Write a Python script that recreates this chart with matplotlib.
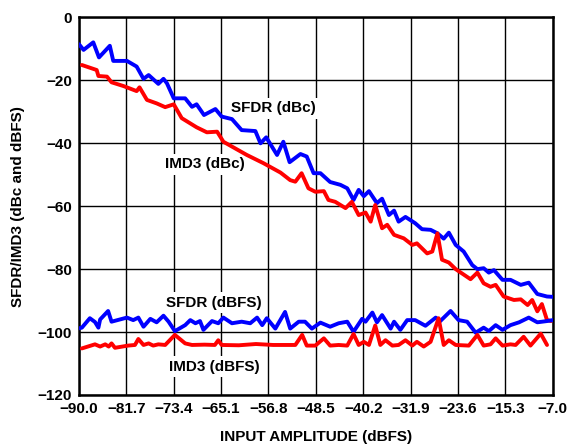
import numpy as np
import matplotlib
matplotlib.use("Agg")
import matplotlib.pyplot as plt

plt.rcParams["font.family"] = ["Liberation Sans", "DejaVu Sans"]
plt.rcParams["font.weight"] = "bold"
plt.rcParams["axes.unicode_minus"] = True

# SFDR in dBc (upper blue trace)
sfdr_dbc_x = [-90.0, -89.2, -87.5, -86.5, -84.6, -84.0, -81.6, -79.9, -78.7, -77.8,
              -76.1, -75.2, -74.6, -73.4, -71.4, -70.2, -69.4, -68.1, -66.1, -65.0,
              -63.2, -61.5, -59.1, -58.2, -57.2, -55.3, -54.2, -53.1, -51.2, -50.1,
              -48.9, -47.7, -46.0, -44.2, -43.0, -41.9, -41.0, -40.1, -39.2, -37.8,
              -36.9, -35.7, -34.8, -34.0, -32.8, -31.1, -29.9, -28.4, -27.2, -26.1,
              -25.2, -24.0, -22.6, -21.1, -20.2, -19.1, -18.2, -17.3, -15.8, -14.4,
              -12.6, -11.2, -9.7, -8.0, -7.0]
sfdr_dbc_y = [-8.5, -10.3, -7.9, -12.7, -9.0, -13.8, -13.8, -15.6, -19.5, -18.3,
              -21.1, -19.5, -20.9, -25.7, -25.7, -28.4, -27.6, -31.0, -29.1, -31.5,
              -32.3, -35.8, -36.1, -40.0, -38.1, -43.7, -39.5, -46.0, -43.4, -44.2,
              -49.5, -49.5, -52.3, -53.2, -54.3, -58.0, -54.8, -56.8, -55.2, -59.0,
              -57.6, -62.8, -61.4, -64.9, -63.4, -65.4, -67.3, -67.5, -68.6, -70.3,
              -68.4, -72.3, -74.4, -78.7, -80.0, -79.7, -81.1, -80.3, -83.4, -83.4,
              -85.0, -84.3, -87.9, -88.7, -88.8]

# IMD3 in dBc (upper red trace)
imd3_dbc_x = [-89.5, -86.9, -86.6, -85.1, -84.3, -82.2, -79.9, -79.4, -78.1, -76.4,
              -74.9, -73.4, -72.0, -69.4, -67.6, -65.8, -64.7, -60.6, -57.7, -54.7,
              -53.0, -52.1, -51.0, -49.8, -48.6, -47.1, -46.3, -45.1, -43.3, -42.2,
              -41.0, -39.8, -38.9, -38.1, -36.9, -36.0, -34.8, -33.1, -31.6, -30.8,
              -29.0, -28.1, -27.2, -26.4, -25.2, -24.0, -21.4, -20.2, -19.1, -17.9,
              -17.0, -15.6, -13.8, -12.6, -11.4, -10.6, -9.7, -8.9, -8.0, -7.3]
imd3_dbc_y = [-15.1, -16.7, -18.6, -18.8, -20.6, -21.8, -23.4, -22.2, -26.2, -27.3,
              -28.5, -27.6, -32.0, -34.9, -36.5, -36.3, -39.5, -43.7, -46.3, -49.3,
              -51.7, -52.2, -49.5, -54.3, -55.4, -55.2, -58.0, -58.6, -60.6, -58.6,
              -62.8, -62.0, -64.9, -59.6, -67.0, -65.9, -69.1, -70.2, -72.3, -71.8,
              -75.0, -74.4, -68.6, -77.0, -77.9, -80.0, -83.2, -81.1, -84.5, -85.6,
              -85.0, -88.7, -89.8, -89.6, -91.4, -89.8, -93.4, -91.1, -96.2, -96.5]

# SFDR in dBFS (lower blue trace)
sfdr_dbfs_x = [-90.0, -89.5, -88.1, -87.2, -86.6, -86.3, -84.9, -84.3, -81.6, -80.5,
               -79.6, -78.7, -77.5, -76.4, -75.2, -74.3, -73.2, -71.4, -70.5, -69.6,
               -68.8, -68.2, -66.7, -65.6, -64.7, -63.2, -61.5, -60.0, -58.8, -57.9,
               -57.1, -55.6, -53.9, -53.0, -51.5, -50.4, -49.2, -47.7, -46.0, -44.5,
               -43.0, -41.9, -40.4, -39.8, -38.6, -37.8, -36.9, -35.4, -34.8, -33.7,
               -32.5, -31.1, -29.3, -27.5, -26.7, -24.9, -23.5, -22.0, -20.5, -19.1,
               -18.2, -17.0, -15.8, -14.4, -12.9, -11.2, -9.7, -8.0, -7.0]
sfdr_dbfs_y = [-98.8, -98.6, -95.6, -96.8, -98.6, -96.0, -93.3, -96.7, -95.4, -96.2,
               -95.4, -98.3, -95.8, -96.9, -94.8, -96.7, -99.7, -97.8, -96.2, -97.2,
               -96.5, -99.3, -96.5, -97.2, -95.4, -97.2, -96.7, -97.2, -95.4, -97.8,
               -95.6, -98.9, -93.6, -98.9, -96.7, -96.7, -98.9, -97.0, -98.3, -97.2,
               -96.7, -99.9, -95.8, -96.7, -93.8, -96.9, -94.6, -98.9, -96.7, -99.3,
               -96.2, -96.2, -98.0, -95.4, -96.5, -93.3, -96.2, -96.7, -100.2, -98.6,
               -99.7, -97.8, -99.3, -97.8, -96.9, -95.4, -96.9, -96.5, -96.2]

# IMD3 in dBFS (lower red trace)
imd3_dbfs_x = [-89.5, -87.2, -86.3, -85.4, -84.8, -84.3, -83.7, -81.4, -80.2, -79.6,
               -78.7, -77.8, -77.0, -76.1, -74.9, -73.2, -71.4, -70.2, -68.0, -66.2,
               -65.6, -65.0, -62.0, -59.0, -56.0, -52.1, -50.9, -50.1, -48.6, -47.1,
               -46.0, -44.5, -43.0, -41.9, -41.0, -40.1, -39.2, -38.1, -37.2, -36.3,
               -35.1, -34.0, -32.8, -31.6, -30.8, -29.6, -28.4, -27.0, -26.1, -25.2,
               -24.0, -21.7, -20.2, -19.1, -17.9, -17.0, -15.8, -14.4, -13.5, -12.1,
               -10.9, -9.1, -8.0]
imd3_dbfs_y = [-105.2, -103.9, -104.6, -103.9, -104.6, -103.6, -105.0, -104.3, -104.1, -102.2,
               -104.1, -103.6, -104.3, -103.9, -104.1, -100.9, -103.6, -104.1, -104.0, -104.1,
               -102.6, -104.1, -104.2, -103.8, -104.1, -104.1, -100.9, -104.3, -104.3, -102.0,
               -104.3, -104.1, -104.3, -100.6, -104.1, -103.1, -104.1, -97.9, -104.1, -102.6,
               -104.3, -104.1, -102.6, -104.3, -103.1, -104.6, -103.1, -95.6, -104.1, -102.6,
               -104.1, -104.3, -100.9, -104.3, -103.9, -102.0, -104.3, -103.9, -104.1, -101.5,
               -104.3, -100.5, -104.1]

x_ticks = [-90.0, -81.7, -73.4, -65.1, -56.8, -48.5, -40.2, -31.9, -23.6, -15.3, -7.0]
y_ticks = [0, -20, -40, -60, -80, -100, -120]

fig = plt.figure(figsize=(5.7, 4.45), dpi=100)
ax = fig.add_axes([0.1386, 0.1124, 0.8311, 0.8483])

lw = 2.8
for xs, ys, col in [(sfdr_dbc_x, sfdr_dbc_y, "#0000FF"),
                    (imd3_dbc_x, imd3_dbc_y, "#FF0000"),
                    (sfdr_dbfs_x, sfdr_dbfs_y, "#0000FF"),
                    (imd3_dbfs_x, imd3_dbfs_y, "#FF0000")]:
    ax.plot(xs, ys, color=col, lw=lw, solid_joinstyle="round",
            solid_capstyle="round", zorder=3)

ax.set_xlim(-90, -7)
ax.set_ylim(-120, 0)
ax.set_xticks(x_ticks)
ax.set_xticklabels([f"{t:.1f}".replace("-", "\u2212") for t in x_ticks])
ax.set_yticks(y_ticks)
ax.set_yticklabels([f"{t}".replace("-", "\u2212") for t in y_ticks])
ax.tick_params(length=0, labelsize=11, pad=5)
for lab in ax.get_xticklabels() + ax.get_yticklabels():
    lab.set_fontweight("bold")

ax.grid(True, color="black", lw=1.0, zorder=1)
ax.set_axisbelow(True)
for sp in ax.spines.values():
    sp.set_linewidth(1.8)

ax.set_xlabel("INPUT AMPLITUDE (dBFS)", fontsize=11, fontweight="bold", labelpad=10)
ax.set_ylabel("SFDR/IMD3 (dBc and dBFS)", fontsize=11, fontweight="bold", labelpad=9)

box = dict(facecolor="white", edgecolor="none", pad=2.5)
ax.text(-56.0, -28.8, "SFDR (dBc)", fontsize=11, fontweight="bold",
        ha="center", va="center", bbox=box, zorder=2)
ax.text(-67.9, -46.6, "IMD3 (dBc)", fontsize=11, fontweight="bold",
        ha="center", va="center", bbox=box, zorder=2)
ax.text(-66.3, -90.7, "SFDR (dBFS)", fontsize=11, fontweight="bold",
        ha="center", va="center", bbox=box, zorder=2)
ax.text(-66.3, -111.0, "IMD3 (dBFS)", fontsize=11, fontweight="bold",
        ha="center", va="center", bbox=box, zorder=2)

fig.savefig("out.png", dpi=100)
